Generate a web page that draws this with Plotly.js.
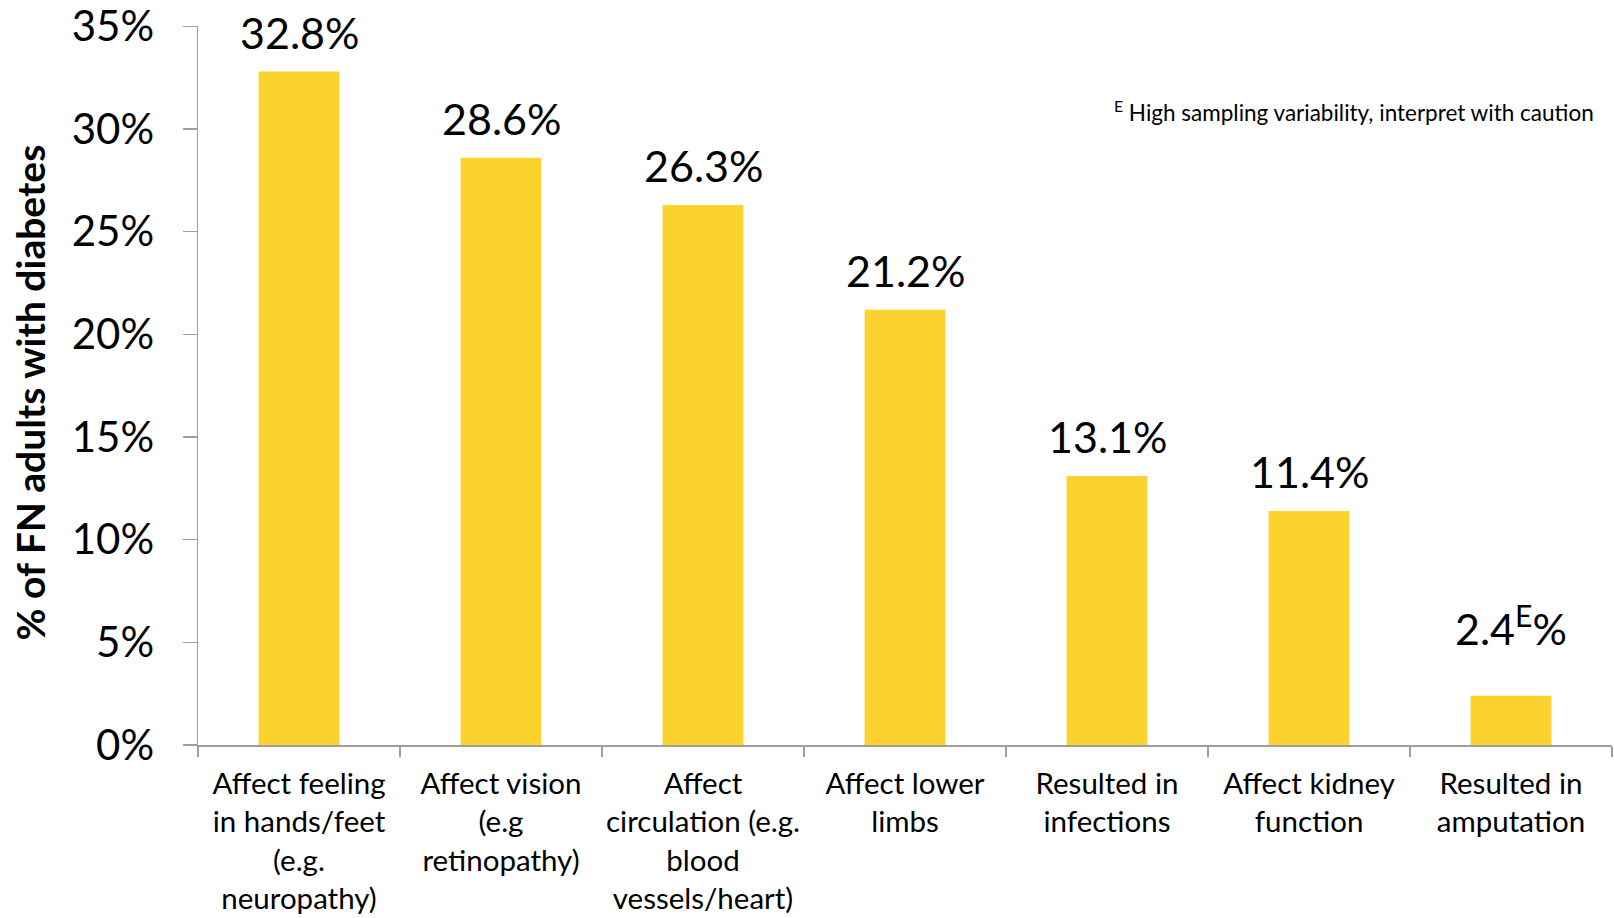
<!DOCTYPE html>
<html>
<head>
<meta charset="utf-8">
<script src="https://cdn.plot.ly/plotly-3.0.1.min.js"></script>
<style>html,body{margin:0;padding:0;background:#fff;}#chart{width:1614px;height:918px;}</style>
</head>
<body>
<div id="chart"></div>
<script>
const categories = [
  "Affect feeling<br>in hands/feet<br>(e.g.<br>neuropathy)",
  "Affect vision<br>(e.g<br>retinopathy)",
  "Affect<br>circulation (e.g.<br>blood<br>vessels/heart)",
  "Affect lower<br>limbs",
  "Resulted in<br>infections",
  "Affect kidney<br>function",
  "Resulted in<br>amputation"
];
const values = [32.8, 28.6, 26.3, 21.2, 13.1, 11.4, 2.4];
const valueLabels = ["32.8%", "28.6%", "26.3%", "21.2%", "13.1%", "11.4%", "2.4<sup>E</sup>%"];
const tickVals = [0, 5, 10, 15, 20, 25, 30, 35];
const tickText = ["0%", "5%", "10%", "15%", "20%", "25%", "30%", "35%"];
const yTitle = "<b>% of FN adults with diabetes</b>";
const note = "<sup>E</sup> High sampling variability, interpret with caution";

const FONT = "Lato, 'Open Sans', sans-serif";
const AXIS_COLOR = "#9e9e9e";

const trace = {
  type: "bar",
  x: categories,
  y: values,
  marker: { color: "#FCD22E" },
  width: 0.4,
  hoverinfo: "skip"
};

const annotations = categories.map((c, i) => ({
  x: c, y: values[i], xref: "x", yref: "y",
  text: valueLabels[i], showarrow: false,
  yanchor: "bottom", yshift: valueLabels[i].indexOf("<sup>") >= 0 ? 40 : 12,
  font: { family: FONT, size: 43, color: "#000" }
}));
annotations.push({
  xref: "paper", yref: "paper", x: -0.119, y: 0.49,
  text: yTitle, textangle: -90, showarrow: false,
  xanchor: "center", yanchor: "middle",
  font: { family: FONT, size: 39, color: "#000" }
});
annotations.push({
  xref: "paper", yref: "paper", x: 0.989, y: 0.882,
  text: note, showarrow: false, xanchor: "right", yanchor: "middle",
  font: { family: FONT, size: 22.5, color: "#000" }
});

const layout = {
  width: 1614, height: 918,
  margin: { l: 198, r: 2, t: 26, b: 173 },
  paper_bgcolor: "#fff", plot_bgcolor: "#fff",
  showlegend: false,
  bargap: 0.6,
  font: { family: FONT, color: "#000" },
  xaxis: {
    type: "category",
    showline: true, linecolor: AXIS_COLOR, linewidth: 1.5,
    ticks: "outside", tickson: "boundaries", ticklen: 10, tickcolor: AXIS_COLOR, tickwidth: 1.5,
    tickfont: { family: FONT, size: 29.5, color: "#000" },
    tickangle: 0,
    ticklabelstandoff: 12,
    showgrid: false, zeroline: false, automargin: false
  },
  yaxis: {
    range: [0, 35.02],
    tickvals: tickVals, ticktext: tickText,
    showline: true, linecolor: AXIS_COLOR, linewidth: 1.5,
    ticks: "outside", ticklen: 14, tickcolor: AXIS_COLOR, tickwidth: 1.5,
    tickfont: { family: FONT, size: 42, color: "#000" },
    ticklabelstandoff: 20,
    showgrid: false, zeroline: false, automargin: false
  },
  annotations: annotations
};

Plotly.newPlot("chart", [trace], layout, { staticPlot: true, displayModeBar: false });
</script>
</body>
</html>
